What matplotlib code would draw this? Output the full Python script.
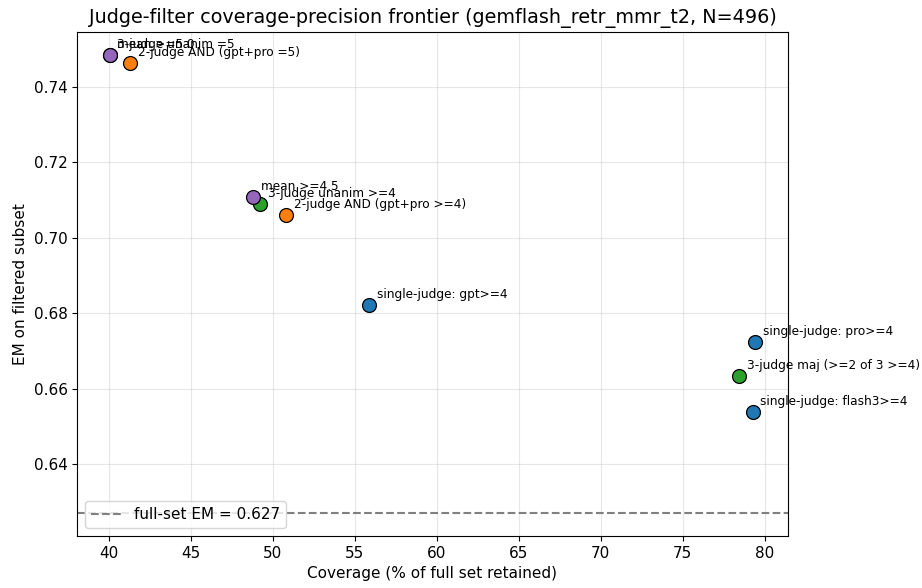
import matplotlib
matplotlib.use("Agg")
import matplotlib.pyplot as plt

# Data
labels = [
    "single-judge: gpt>=4",
    "single-judge: pro>=4",
    "single-judge: flash3>=4",
    "2-judge AND (gpt+pro >=4)",
    "2-judge AND (gpt+pro =5)",
    "3-judge maj (>=2 of 3 >=4)",
    "3-judge unanim >=4",
    "3-judge unanim =5",
    "mean >=4.5",
    "mean >=5.0",
]
coverage = [55.87, 79.43, 79.27, 50.81, 41.32, 78.46, 49.24, 40.06, 48.82, 40.06]
em = [0.6822, 0.6723, 0.6538, 0.7061, 0.7462, 0.6633, 0.7090, 0.7485, 0.7108, 0.7485]
groups = ["single", "single", "single", "and", "and", "maj3", "maj3", "maj3", "mean", "mean"]
group_colors = {"single": "#1f77b4", "and": "#ff7f0e", "maj3": "#2ca02c", "mean": "#9467bd"}
full_em = 0.627
n_total = 496

fig = plt.figure(figsize=(9.22, 5.88), dpi=100)
ax = fig.add_axes([0.0838, 0.0884, 0.7705, 0.8576])

for x, y, g, lab in zip(coverage, em, groups, labels):
    ax.scatter([x], [y], s=100, color=group_colors[g], edgecolor="black",
               linewidth=0.9, zorder=3)
    ax.annotate(lab, (x, y), xytext=(5.5, 5), textcoords="offset points",
                fontsize=8.7, annotation_clip=False)

ax.axhline(full_em, color="gray", linestyle="--", linewidth=1.5,
           label=f"full-set EM = {full_em:.3f}")

ax.set_xlabel("Coverage (% of full set retained)", fontsize=11)
ax.set_ylabel("EM on filtered subset", fontsize=11)
ax.set_title(f"Judge-filter coverage-precision frontier (gemflash_retr_mmr_t2, N={n_total})",
             fontsize=13.8)
ax.tick_params(labelsize=11)
ax.grid(True, alpha=0.3)
ax.legend(loc="lower left", fontsize=11)

fig.savefig("out.png", dpi=100)
